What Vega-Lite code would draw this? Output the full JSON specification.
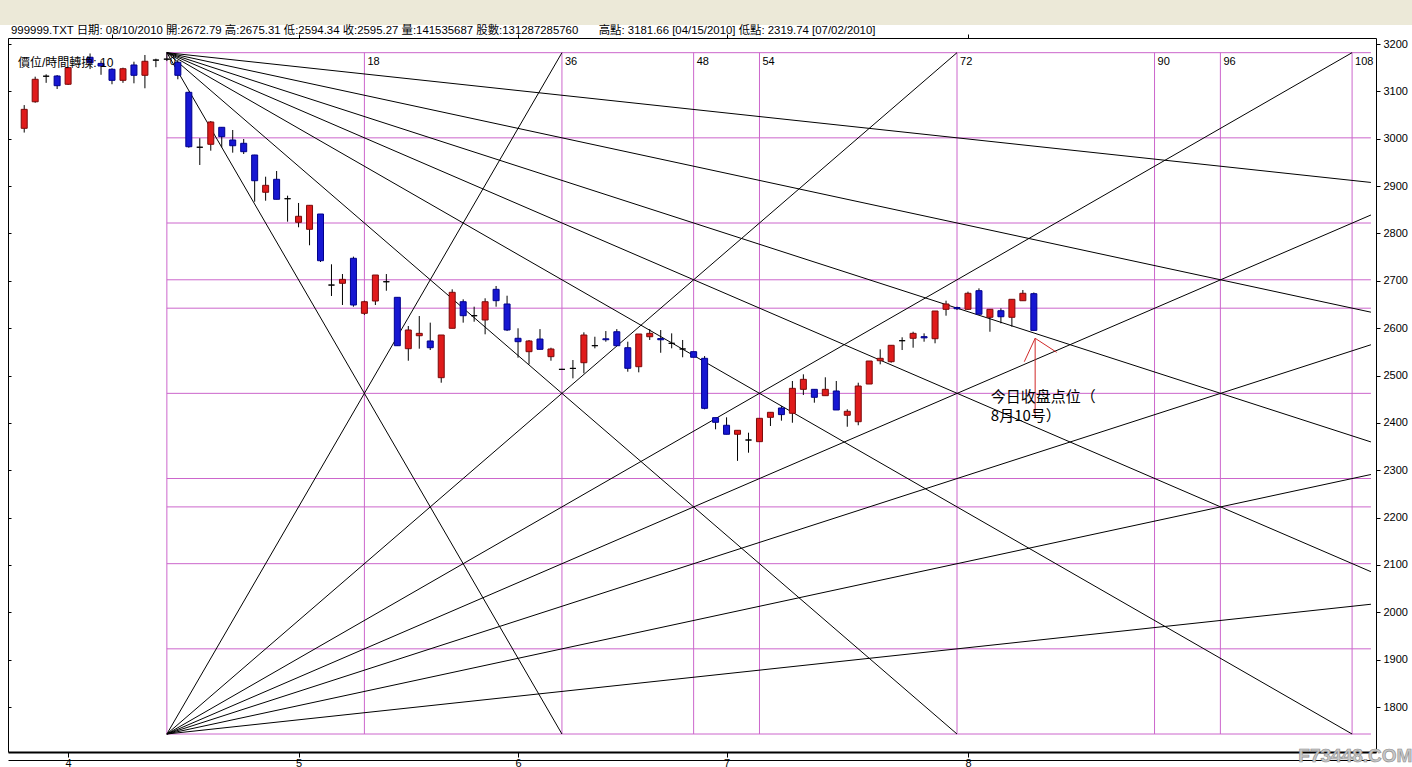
{
  "$schema": "https://vega.github.io/schema/vega-lite/v6.json",
  "width": 1412,
  "height": 742,
  "autosize": "none",
  "padding": {"top": 25, "left": 0, "right": 0, "bottom": 0},
  "background": "#ECE9D8",
  "config": {"view": {"fill": "white", "stroke": null}, "font": "Liberation Sans, Noto Sans CJK TC"},
  "resolve": {"axis": {"x": "independent", "y": "independent"}},
  "datasets": {
    "k": [
      {"i":-13,"o":3022,"h":3071,"l":3013,"c":3062},
      {"i":-12,"o":3078,"h":3131,"l":3076,"c":3125.5},
      {"i":-11,"o":3132,"h":3136,"l":3118,"c":3132},
      {"i":-10,"o":3132.4,"h":3134.5,"l":3105,"c":3112},
      {"i":-9,"o":3115,"h":3152,"l":3113.4,"c":3150},
      {"i":-7,"o":3172,"h":3180,"l":3147,"c":3160.5},
      {"i":-6,"o":3159,"h":3165,"l":3135,"c":3153.5},
      {"i":-5,"o":3146.6,"h":3148.7,"l":3115,"c":3123.3},
      {"i":-4,"o":3123.3,"h":3150,"l":3118,"c":3147.8},
      {"i":-3,"o":3155.7,"h":3162.6,"l":3117,"c":3133.9},
      {"i":-2,"o":3133.9,"h":3176.8,"l":3106.5,"c":3163.5},
      {"i":-1,"o":3166,"h":3169,"l":3151,"c":3166},
      {"i":0,"o":3168,"h":3181.66,"l":3164,"c":3168},
      {"i":1,"o":3161.4,"h":3166.2,"l":3125.5,"c":3133.9},
      {"i":2,"o":3098,"h":3099.3,"l":2981,"c":2983.1},
      {"i":3,"o":2982,"h":3001,"l":2944.5,"c":2982},
      {"i":4,"o":2988.2,"h":3037.4,"l":2974.7,"c":3035.3},
      {"i":5,"o":3024.1,"h":3024.5,"l":2981.9,"c":3004.3},
      {"i":6,"o":2997.3,"h":3018.4,"l":2970.5,"c":2985.2},
      {"i":7,"o":2990.3,"h":2999.4,"l":2967.7,"c":2972.6},
      {"i":8,"o":2965.6,"h":2966,"l":2867,"c":2911.3},
      {"i":9,"o":2886.9,"h":2919.8,"l":2869.1,"c":2901.6},
      {"i":10,"o":2914.3,"h":2931.8,"l":2872,"c":2872.1},
      {"i":11,"o":2873.3,"h":2879.7,"l":2824.8,"c":2873.3},
      {"i":12,"o":2823.5,"h":2864.3,"l":2813,"c":2836.2},
      {"i":13,"o":2808.7,"h":2859.4,"l":2775,"c":2859.4},
      {"i":14,"o":2841,"h":2841,"l":2739.7,"c":2742.4},
      {"i":15,"o":2691,"h":2734.8,"l":2667.9,"c":2691},
      {"i":16,"o":2694.7,"h":2714.3,"l":2648.9,"c":2703},
      {"i":17,"o":2747.5,"h":2751,"l":2645.3,"c":2648.9},
      {"i":18,"o":2631.3,"h":2658,"l":2628,"c":2655.8},
      {"i":19,"o":2657.3,"h":2712.2,"l":2648.9,"c":2712.2},
      {"i":20,"o":2698,"h":2714.3,"l":2679,"c":2698},
      {"i":21,"o":2665.1,"h":2665.1,"l":2562.9,"c":2562.9},
      {"i":22,"o":2556.6,"h":2604.5,"l":2531.2,"c":2596.1},
      {"i":23,"o":2584,"h":2625.6,"l":2556.6,"c":2589},
      {"i":24,"o":2572.9,"h":2611.6,"l":2553.8,"c":2558.7},
      {"i":25,"o":2495.4,"h":2585.5,"l":2484.8,"c":2585.5},
      {"i":26,"o":2599.7,"h":2682,"l":2599.7,"c":2675.7},
      {"i":27,"o":2655.8,"h":2660.9,"l":2611.6,"c":2626.3},
      {"i":28,"o":2626.3,"h":2645.3,"l":2613.6,"c":2626.3},
      {"i":29,"o":2617.2,"h":2663,"l":2587,"c":2655.8},
      {"i":30,"o":2682,"h":2689,"l":2645.3,"c":2658},
      {"i":31,"o":2651,"h":2668.5,"l":2593.9,"c":2596.1},
      {"i":32,"o":2578.6,"h":2599.7,"l":2537.6,"c":2571.4},
      {"i":33,"o":2550.3,"h":2575,"l":2523.6,"c":2572.9},
      {"i":34,"o":2577,"h":2598,"l":2555.3,"c":2555.3},
      {"i":35,"o":2539.8,"h":2558.7,"l":2531.2,"c":2556},
      {"i":36,"o":2513,"h":2514,"l":2512,"c":2513},
      {"i":37,"o":2515,"h":2532.7,"l":2494,"c":2515},
      {"i":38,"o":2527,"h":2591.2,"l":2504.6,"c":2585.5},
      {"i":39,"o":2563,"h":2581.9,"l":2557.4,"c":2563},
      {"i":40,"o":2577.5,"h":2593.9,"l":2571.4,"c":2575.5},
      {"i":41,"o":2592.4,"h":2598,"l":2562.9,"c":2562.9},
      {"i":42,"o":2558.7,"h":2571.4,"l":2508,"c":2515.2},
      {"i":43,"o":2518.6,"h":2587.6,"l":2506.7,"c":2587.6},
      {"i":44,"o":2581.9,"h":2598,"l":2575,"c":2589},
      {"i":45,"o":2578,"h":2596,"l":2548,"c":2575.5},
      {"i":46,"o":2568,"h":2589,"l":2557.4,"c":2568},
      {"i":47,"o":2556,"h":2575,"l":2538.5,"c":2556},
      {"i":48,"o":2550.3,"h":2550.3,"l":2538.5,"c":2538.5},
      {"i":49,"o":2536.3,"h":2541,"l":2428.6,"c":2430.7},
      {"i":50,"o":2411,"h":2411,"l":2386.4,"c":2401.2},
      {"i":51,"o":2394.9,"h":2411.7,"l":2375.9,"c":2375.9},
      {"i":52,"o":2375.9,"h":2384.3,"l":2319.74,"c":2384.3},
      {"i":53,"o":2363.8,"h":2379.2,"l":2337,"c":2363.8},
      {"i":54,"o":2360.3,"h":2409.6,"l":2360.3,"c":2409.6},
      {"i":55,"o":2411.7,"h":2422.3,"l":2393.4,"c":2422.3},
      {"i":56,"o":2431.4,"h":2435.6,"l":2404.6,"c":2417.4},
      {"i":57,"o":2420.2,"h":2488.4,"l":2400.3,"c":2472.9},
      {"i":58,"o":2470.8,"h":2502.5,"l":2458.8,"c":2491.9},
      {"i":59,"o":2470.8,"h":2470.8,"l":2442.6,"c":2454},
      {"i":60,"o":2457.4,"h":2496.2,"l":2457.4,"c":2470.8},
      {"i":61,"o":2467.3,"h":2488.4,"l":2427.2,"c":2427.2},
      {"i":62,"o":2416,"h":2428.6,"l":2391.8,"c":2424.4},
      {"i":63,"o":2402.4,"h":2484.8,"l":2394.9,"c":2477.8},
      {"i":64,"o":2482,"h":2530.6,"l":2482,"c":2530.6},
      {"i":65,"o":2531.2,"h":2555.3,"l":2523.6,"c":2536.3},
      {"i":66,"o":2529.2,"h":2563.8,"l":2527,"c":2563.8},
      {"i":67,"o":2573.5,"h":2580.7,"l":2553.8,"c":2573.5},
      {"i":68,"o":2578.6,"h":2592.4,"l":2558.7,"c":2589},
      {"i":69,"o":2582,"h":2589,"l":2571.4,"c":2579.5},
      {"i":70,"o":2577.7,"h":2636.2,"l":2568,"c":2636.2},
      {"i":71,"o":2639.8,"h":2658,"l":2626.3,"c":2651},
      {"i":72,"o":2643.5,"h":2645.3,"l":2638.3,"c":2641},
      {"i":73,"o":2639.8,"h":2677,"l":2638.3,"c":2673.6},
      {"i":74,"o":2679.1,"h":2684,"l":2629.4,"c":2629.4},
      {"i":75,"o":2622.9,"h":2639.8,"l":2592.4,"c":2639.8},
      {"i":76,"o":2636.8,"h":2641.9,"l":2610.2,"c":2624.1},
      {"i":77,"o":2622.9,"h":2660.9,"l":2603,"c":2660.9},
      {"i":78,"o":2657.9,"h":2680.5,"l":2657.9,"c":2673.6},
      {"i":79,"o":2672.79,"h":2675.31,"l":2594.34,"c":2595.27}
    ],
    "grid": [
      {"x1":0,"x2":109.72,"y1":3181.66,"y2":3181.66},
      {"x1":0,"x2":109.72,"y1":3001.83,"y2":3001.83},
      {"x1":0,"x2":109.72,"y1":2822.0,"y2":2822.0},
      {"x1":0,"x2":109.72,"y1":2702.11,"y2":2702.11},
      {"x1":0,"x2":109.72,"y1":2642.16,"y2":2642.16},
      {"x1":0,"x2":109.72,"y1":2462.33,"y2":2462.33},
      {"x1":0,"x2":109.72,"y1":2282.5,"y2":2282.5},
      {"x1":0,"x2":109.72,"y1":2222.55,"y2":2222.55},
      {"x1":0,"x2":109.72,"y1":2102.66,"y2":2102.66},
      {"x1":0,"x2":109.72,"y1":1922.83,"y2":1922.83},
      {"x1":0,"x2":109.72,"y1":1743.0,"y2":1743.0},
      {"x1":0,"x2":0,"y1":1743.0,"y2":3181.66},
      {"x1":18,"x2":18,"y1":1743.0,"y2":3181.66},
      {"x1":36,"x2":36,"y1":1743.0,"y2":3181.66},
      {"x1":48,"x2":48,"y1":1743.0,"y2":3181.66},
      {"x1":54,"x2":54,"y1":1743.0,"y2":3181.66},
      {"x1":72,"x2":72,"y1":1743.0,"y2":3181.66},
      {"x1":90,"x2":90,"y1":1743.0,"y2":3181.66},
      {"x1":96,"x2":96,"y1":1743.0,"y2":3181.66},
      {"x1":108,"x2":108,"y1":1743.0,"y2":3181.66}
    ],
    "fan": [
      {"x1":0,"y1":3181.66,"x2":109.72,"y2":2907.67},
      {"x1":0,"y1":3181.66,"x2":109.72,"y2":2633.68},
      {"x1":0,"y1":3181.66,"x2":109.72,"y2":2359.69},
      {"x1":0,"y1":3181.66,"x2":109.72,"y2":2085.7},
      {"x1":0,"y1":3181.66,"x2":108,"y2":1743.0},
      {"x1":0,"y1":3181.66,"x2":72,"y2":1743.0},
      {"x1":0,"y1":3181.66,"x2":36,"y2":1743.0},
      {"x1":0,"y1":1743.0,"x2":109.72,"y2":2016.99},
      {"x1":0,"y1":1743.0,"x2":109.72,"y2":2290.98},
      {"x1":0,"y1":1743.0,"x2":109.72,"y2":2564.97},
      {"x1":0,"y1":1743.0,"x2":109.72,"y2":2838.96},
      {"x1":0,"y1":1743.0,"x2":108,"y2":3181.66},
      {"x1":0,"y1":1743.0,"x2":72,"y2":3181.66},
      {"x1":0,"y1":1743.0,"x2":36,"y2":3181.66}
    ],
    "vlab": [
      {"x":0,"t":"0"},{"x":18,"t":"18"},{"x":36,"t":"36"},{"x":48,"t":"48"},{"x":54,"t":"54"},
      {"x":72,"t":"72"},{"x":90,"t":"90"},{"x":96,"t":"96"},{"x":108,"t":"108"}
    ],
    "arrow": [
      {"x1":79.12,"y1":2578.6,"x2":79.12,"y2":2413},
      {"x1":79.12,"y1":2578.6,"x2":78.13,"y2":2529.1},
      {"x1":79.12,"y1":2578.6,"x2":81.08,"y2":2549}
    ],
    "one": [{}]
  },
  "layer": [
    {
      "data": {"name": "grid"},
      "mark": {"type": "rule", "color": "#CC66CC", "strokeWidth": 1},
      "encoding": {
        "x": {"field": "x1", "type": "quantitative",
          "scale": {"domain": [-14.021, 109.724], "range": [8, 1376], "nice": false, "zero": false},
          "axis": {"orient": "top", "offset": -13, "values": [-5, 12, 32, 51, 73], "labels": false, "tickSize": 4, "tickColor": "#000000", "domainColor": "#000000", "grid": false, "title": null}},
        "x2": {"field": "x2"},
        "y": {"field": "y1", "type": "quantitative",
          "scale": {"domain": [1705, 3212.67], "range": [727, 13], "nice": false, "zero": false},
          "axis": {"orient": "left", "offset": -8, "values": [1800,1900,2000,2100,2200,2300,2400,2500,2600,2700,2800,2900,3000,3100,3200], "labels": false, "tickSize": -3, "tickColor": "#000000", "domainColor": "#000000", "grid": false, "title": null}},
        "y2": {"field": "y2"}
      }
    },
    {
      "data": {"name": "fan"},
      "mark": {"type": "rule", "color": "#000000", "strokeWidth": 1},
      "encoding": {
        "x": {"field": "x1", "type": "quantitative",
          "scale": {"domain": [-14.021, 109.724], "range": [8, 1376], "nice": false, "zero": false},
          "axis": {"orient": "bottom", "offset": -7, "labels": false, "ticks": false, "domainColor": "#000000", "grid": false, "title": null}},
        "x2": {"field": "x2"},
        "y": {"field": "y1", "type": "quantitative",
          "scale": {"domain": [1705, 3212.67], "range": [727, 13], "nice": false, "zero": false},
          "axis": null},
        "y2": {"field": "y2"}
      }
    },
    {
      "data": {"name": "k"},
      "mark": {"type": "rule", "color": "#000000", "strokeWidth": 1},
      "encoding": {
        "x": {"field": "i", "type": "quantitative",
          "scale": {"domain": [-14.021, 109.724], "range": [8, 1376], "nice": false, "zero": false},
          "axis": {"orient": "bottom", "offset": -15, "values": [-9, 12, 32, 51, 73],
            "labelExpr": "datum.value == -9 ? '4' : datum.value == 12 ? '5' : datum.value == 32 ? '6' : datum.value == 51 ? '7' : '8'",
            "domainColor": "#000000", "domainWidth": 2, "tickColor": "#000000", "tickSize": 5, "labelFontSize": 11, "labelColor": "#000000", "labelPadding": 0, "labelFlush": false, "labelOverlap": false, "grid": false, "title": null}},
        "y": {"field": "l", "type": "quantitative",
          "scale": {"domain": [1705, 3212.67], "range": [727, 13], "nice": false, "zero": false},
          "axis": {"orient": "right", "offset": -36, "values": [1800,1900,2000,2100,2200,2300,2400,2500,2600,2700,2800,2900,3000,3100,3200], "format": "d", "labelFontSize": 11, "labelColor": "#000000", "tickColor": "#000000", "tickSize": 4, "labelPadding": 3, "domainColor": "#000000", "labelOverlap": false, "labelFlush": false, "labelBound": false, "grid": false, "title": null}},
        "y2": {"field": "h"}
      }
    },
    {
      "data": {"name": "k"},
      "mark": {"type": "bar", "size": 6, "strokeWidth": 1},
      "encoding": {
        "x": {"field": "i", "type": "quantitative",
          "scale": {"domain": [-14.021, 109.724], "range": [8, 1376], "nice": false, "zero": false}, "axis": null},
        "y": {"field": "o", "type": "quantitative",
          "scale": {"domain": [1705, 3212.67], "range": [727, 13], "nice": false, "zero": false}, "axis": null},
        "y2": {"field": "c"},
        "fill": {"condition": [{"test": "datum.c > datum.o", "value": "#E01B1B"}, {"test": "datum.c < datum.o", "value": "#1717D2"}], "value": "#000000"},
        "stroke": {"condition": [{"test": "datum.c > datum.o", "value": "#7A0A0A"}, {"test": "datum.c < datum.o", "value": "#00008C"}], "value": "#000000"}
      }
    },
    {
      "data": {"name": "vlab"},
      "mark": {"type": "text", "align": "left", "baseline": "middle", "dx": 3, "fontSize": 11, "color": "#000000"},
      "encoding": {
        "x": {"field": "x", "type": "quantitative",
          "scale": {"domain": [-14.021, 109.724], "range": [8, 1376], "nice": false, "zero": false}, "axis": null},
        "y": {"datum": 3162, "type": "quantitative",
          "scale": {"domain": [1705, 3212.67], "range": [727, 13], "nice": false, "zero": false}, "axis": null},
        "text": {"field": "t"}
      }
    },
    {
      "data": {"name": "arrow"},
      "mark": {"type": "rule", "color": "#D02828", "strokeWidth": 1},
      "encoding": {
        "x": {"field": "x1", "type": "quantitative",
          "scale": {"domain": [-14.021, 109.724], "range": [8, 1376], "nice": false, "zero": false}, "axis": null},
        "x2": {"field": "x2"},
        "y": {"field": "y1", "type": "quantitative",
          "scale": {"domain": [1705, 3212.67], "range": [727, 13], "nice": false, "zero": false}, "axis": null},
        "y2": {"field": "y2"}
      }
    },
    {
      "data": {"name": "one"},
      "mark": {"type": "text", "align": "left", "baseline": "middle", "fontSize": 12, "color": "#000000"},
      "encoding": {
        "x": {"datum": -13.57, "type": "quantitative",
          "scale": {"domain": [-14.021, 109.724], "range": [8, 1376], "nice": false, "zero": false}, "axis": null},
        "y": {"datum": 3160, "type": "quantitative",
          "scale": {"domain": [1705, 3212.67], "range": [727, 13], "nice": false, "zero": false}, "axis": null},
        "text": {"value": "價位/時間轉換:  10"}
      }
    },
    {
      "data": {"name": "one"},
      "mark": {"type": "text", "align": "left", "baseline": "middle", "fontSize": 11.4, "color": "#000000"},
      "encoding": {
        "x": {"datum": -14.2, "type": "quantitative",
          "scale": {"domain": [-14.021, 109.724], "range": [8, 1376], "nice": false, "zero": false}, "axis": null},
        "y": {"datum": 3227.4, "type": "quantitative",
          "scale": {"domain": [1705, 3212.67], "range": [727, 13], "nice": false, "zero": false}, "axis": null},
        "text": {"value": "999999.TXT  日期: 08/10/2010  開:2672.79  高:2675.31  低:2594.34  收:2595.27  量:141535687  股數:131287285760"}
      }
    },
    {
      "data": {"name": "one"},
      "mark": {"type": "text", "align": "left", "baseline": "middle", "fontSize": 11.4, "color": "#000000"},
      "encoding": {
        "x": {"datum": 39.35, "type": "quantitative",
          "scale": {"domain": [-14.021, 109.724], "range": [8, 1376], "nice": false, "zero": false}, "axis": null},
        "y": {"datum": 3227.4, "type": "quantitative",
          "scale": {"domain": [1705, 3212.67], "range": [727, 13], "nice": false, "zero": false}, "axis": null},
        "text": {"value": "高點: 3181.66 [04/15/2010]  低點: 2319.74 [07/02/2010]"}
      }
    },
    {
      "data": {"name": "one"},
      "mark": {"type": "text", "align": "left", "baseline": "middle", "fontSize": 15, "font": "Noto Sans CJK SC", "color": "#000000"},
      "encoding": {
        "x": {"datum": 75.08, "type": "quantitative",
          "scale": {"domain": [-14.021, 109.724], "range": [8, 1376], "nice": false, "zero": false}, "axis": null},
        "y": {"datum": 2454.6, "type": "quantitative",
          "scale": {"domain": [1705, 3212.67], "range": [727, 13], "nice": false, "zero": false}, "axis": null},
        "text": {"value": "今日收盘点位（"}
      }
    },
    {
      "data": {"name": "one"},
      "mark": {"type": "text", "align": "left", "baseline": "middle", "fontSize": 15, "font": "Noto Sans CJK SC", "color": "#000000"},
      "encoding": {
        "x": {"datum": 75.08, "type": "quantitative",
          "scale": {"domain": [-14.021, 109.724], "range": [8, 1376], "nice": false, "zero": false}, "axis": null},
        "y": {"datum": 2414.5, "type": "quantitative",
          "scale": {"domain": [1705, 3212.67], "range": [727, 13], "nice": false, "zero": false}, "axis": null},
        "text": {"value": "8月10号）"}
      }
    },
    {
      "data": {"name": "one"},
      "mark": {"type": "text", "align": "center", "baseline": "middle", "fontSize": 19, "fontWeight": "bold", "color": "#C8C8C8", "stroke": "#8C8C8C", "strokeWidth": 0.6},
      "encoding": {
        "x": {"datum": 108.3, "type": "quantitative",
          "scale": {"domain": [-14.021, 109.724], "range": [8, 1376], "nice": false, "zero": false}, "axis": null},
        "y": {"datum": 1696.5, "type": "quantitative",
          "scale": {"domain": [1705, 3212.67], "range": [727, 13], "nice": false, "zero": false}, "axis": null},
        "text": {"value": "F73448.COM"}
      }
    }
  ]
}
